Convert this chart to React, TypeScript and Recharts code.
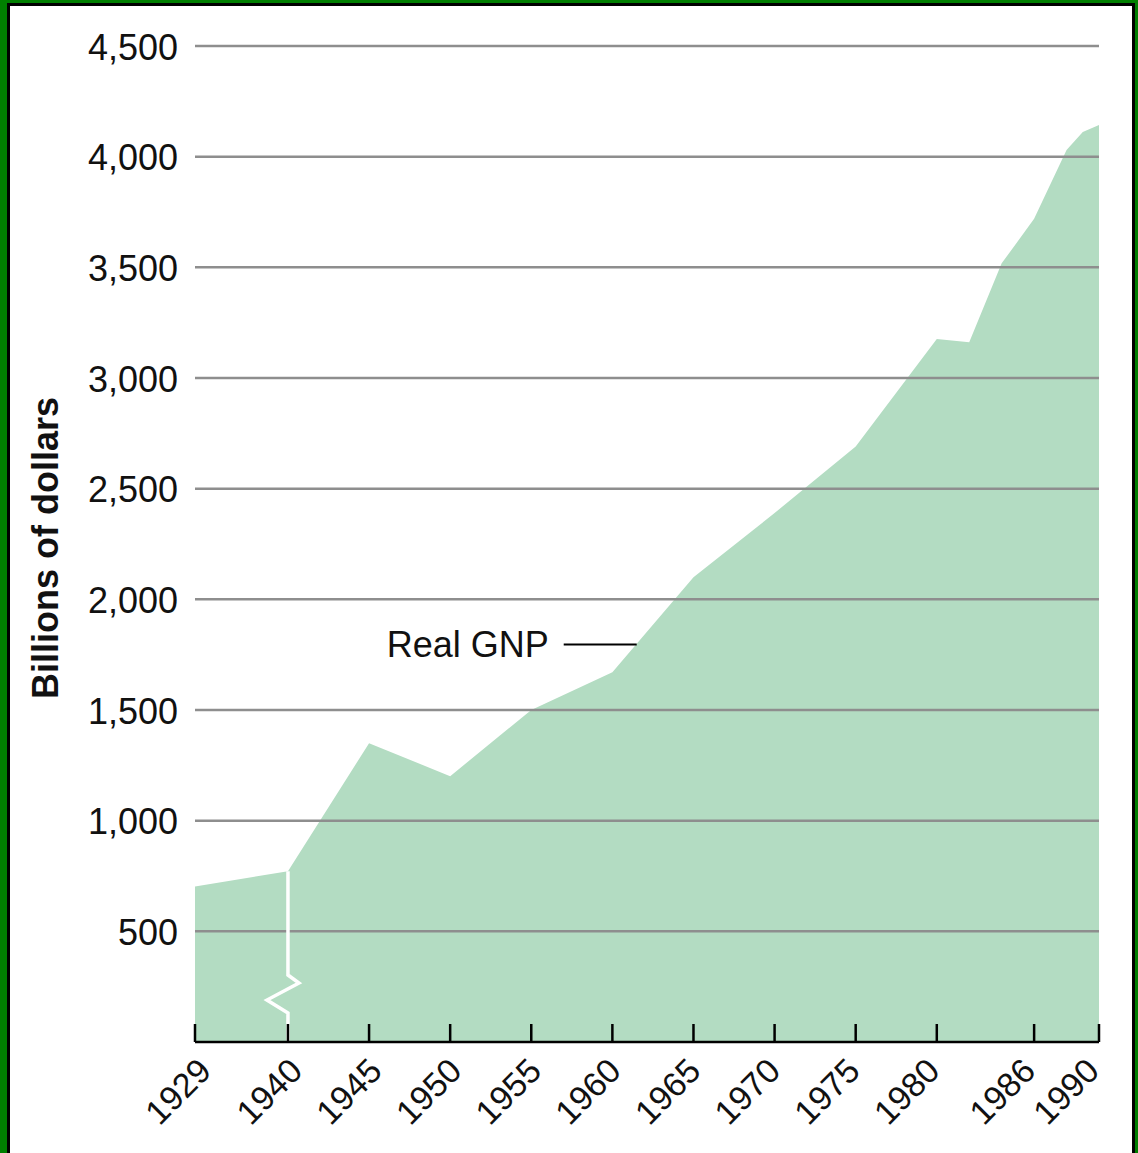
import React from "react";
import {
  AreaChart,
  Area,
  XAxis,
  YAxis,
  ReferenceLine,
  Label,
} from "recharts";

// Real GNP, billions of dollars
const years = [1929, 1940, 1945, 1950, 1955, 1960, 1965, 1970, 1975, 1980, 1982, 1984, 1986, 1988, 1989, 1990];
const gnp = [703, 771, 1350, 1201, 1500, 1671, 2100, 2390, 2690, 3176, 3162, 3518, 3719, 4030, 4111, 4143];

const tickYears = [1929, 1940, 1945, 1950, 1955, 1960, 1965, 1970, 1975, 1980, 1986, 1990];
const valueTicks = [500, 1000, 1500, 2000, 2500, 3000, 3500, 4000, 4500];

// the axis is broken at 1940: the years before it are squeezed together
const BREAK_YEAR = 1940;
const PRE_BREAK_SCALE = 0.521;
const axisPos = (year: number) =>
  year < BREAK_YEAR ? BREAK_YEAR - (BREAK_YEAR - year) * PRE_BREAK_SCALE : year;

const chartData = years.map((year, i) => ({ pos: axisPos(year), gnp: gnp[i] }));
const breakValue = gnp[years.indexOf(BREAK_YEAR)];

const FONT = '"Liberation Sans", Arial, Helvetica, sans-serif';
const AREA_COLOR = "#b3dcc2";
const GRID_COLOR = "#8e8e8e";

const yearForPos = (pos: number) => {
  const found = tickYears.find((y) => Math.abs(axisPos(y) - pos) < 0.01);
  return found !== undefined ? found : Math.round(pos);
};

const XTick = (props: any) => {
  const { x, y, payload } = props;
  const drift = 18 - ((x - 195) * 16) / 904;
  return (
    <g>
      <line x1={x} x2={x} y1={y} y2={y - 18} stroke="#000" strokeWidth={2.5} />
      <text
        transform={`translate(${x + drift},${y + 31}) rotate(-45)`}
        textAnchor="end"
        fontFamily={FONT}
        fontSize={34}
        fill="#111"
      >
        {yearForPos(payload.value)}
      </text>
    </g>
  );
};

const YTick = (props: any) => {
  const { x, y, payload } = props;
  return (
    <text x={x} y={y} dy="0.38em" textAnchor="end" fontFamily={FONT} fontSize={36} fill="#111">
      {payload.value.toLocaleString("en-US")}
    </text>
  );
};

// white zig-zag marking the axis break
const BreakMark = (props: any) => {
  const { x1, y1, y2 } = props;
  const d = `M${x1},${y1} L${x1},${y2 - 67} L${x1 + 11},${y2 - 59} L${x1 - 21},${y2 - 42} L${x1},${y2 - 29} L${x1},${y2}`;
  return <path d={d} fill="none" stroke="#fff" strokeWidth={3.5} strokeLinejoin="miter" />;
};

const YTitle = () => (
  <text
    transform="translate(45,548) rotate(-90)"
    dy="0.355em"
    textAnchor="middle"
    fontFamily={FONT}
    fontSize={36}
    fontWeight="bold"
    fill="#111"
  >
    Billions of dollars
  </text>
);

export default function App() {
  return (
    <div
      style={{
        position: "absolute",
        left: 0,
        top: 0,
        width: 1138,
        height: 1153,
        background: "#007f00",
        overflow: "hidden",
      }}
    >
      <div
        style={{
          position: "absolute",
          left: 7,
          top: 3,
          width: 1128,
          height: 1200,
          background: "#fff",
          border: "3px solid #000",
          boxSizing: "border-box",
        }}
      />
      <div style={{ position: "absolute", left: 0, top: 0 }}>
        <AreaChart
          width={1138}
          height={1153}
          data={chartData}
          margin={{ top: 46, right: 39, bottom: 81, left: 0 }}
        >
          <Area
            type="linear"
            dataKey="gnp"
            stroke="none"
            fill={AREA_COLOR}
            fillOpacity={1}
            isAnimationActive={false}
          />
          {valueTicks.map((v) => (
            <ReferenceLine key={v} y={v} stroke={GRID_COLOR} strokeWidth={2.5} />
          ))}
          <ReferenceLine
            segment={[
              { x: BREAK_YEAR, y: breakValue },
              { x: BREAK_YEAR, y: 0 },
            ]}
            shape={BreakMark}
          />
          <ReferenceLine
            segment={[
              { x: 1957, y: 1796 },
              { x: 1961.5, y: 1796 },
            ]}
            stroke="#000"
            strokeWidth={2}
          >
            <Label
              value="Real GNP"
              position="left"
              offset={15}
              fontFamily={FONT}
              fontSize={36}
              fill="#111"
            />
          </ReferenceLine>
          <XAxis
            dataKey="pos"
            type="number"
            domain={[axisPos(1929), 1990]}
            ticks={tickYears.map(axisPos)}
            interval={0}
            height={30}
            tickSize={0}
            tickMargin={0}
            tickLine={false}
            axisLine={{ stroke: "#000", strokeWidth: 2.5 }}
            tick={<XTick />}
          />
          <YAxis
            type="number"
            domain={[0, 4500]}
            ticks={valueTicks}
            interval={0}
            width={195}
            tickSize={0}
            tickMargin={17}
            tickLine={false}
            axisLine={false}
            tick={<YTick />}
            label={{ content: <YTitle /> }}
          />
        </AreaChart>
      </div>
    </div>
  );
}
